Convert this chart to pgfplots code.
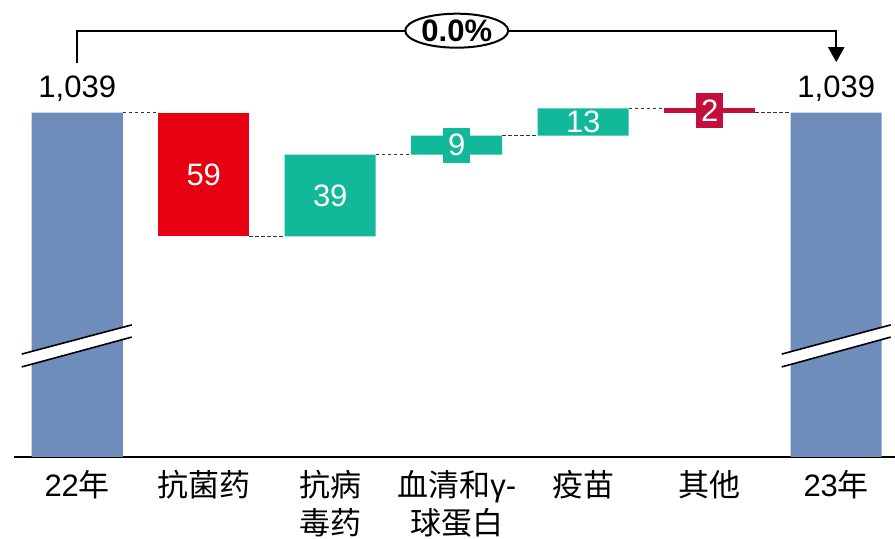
\documentclass[border=0pt]{standalone}
\usepackage{pgfplots}
\pgfplotsset{compat=1.18}
\usepackage{pgfplotstable}
\usepackage{fontspec}
\setmainfont{Liberation Sans}
\newfontfamily\cjk{Noto Sans CJK SC}
\usetikzlibrary{arrows.meta,shapes.geometric}

\definecolor{totblue}{HTML}{6F8DBA}
\definecolor{negred}{HTML}{E60012}
\definecolor{posgreen}{HTML}{12B89A}
\definecolor{crim}{HTML}{C40F3C}

% waterfall: invisible base, then the visible pieces (real values, 亿元)
\pgfplotstableread{
x base tot red green crim
0 0    1039 0  0  0
1 980  0    59 0  0
2 980  0    0  39 0
3 1019 0    0  9  0
4 1028 0    0  13 0
5 1039 0    0  0  2
6 0    1039 0  0  0
}\wf

\begin{document}
\begin{tikzpicture}[font=\fontsize{15.5}{19}\selectfont]
\useasboundingbox (0,0) rectangle (447.5pt,269.5pt);
\begin{axis}[
    at={(7pt,41pt)}, anchor=south west,
    scale only axis,
    width=442.75pt, height=178.5pt,
    xmin=-0.5, xmax=6.5, ymin=875, ymax=1045,
    ybar stacked, bar width=45.5pt,
    clip mode=individual,
    axis x line*=bottom,
    axis y line=none,
    x axis line style={black, line width=1pt, -},
    xtick={0,...,6},
    xticklabels={22{\cjk 年}, {\cjk 抗菌药}, {\cjk 抗病}\\{\cjk 毒药},
        {\cjk 血清和}γ-\\{\cjk 球蛋白}, {\cjk 疫苗}, {\cjk 其他}, 23{\cjk 年}},
    xticklabel style={align=center, font=\fontsize{15.5}{19}\selectfont, yshift=-3pt},
    major tick length=0pt,
    ytick=\empty,
]
\addplot[draw=none, fill=none] table[x=x, y=base] {\wf};
\addplot[draw=none, fill=totblue] table[x=x, y=tot] {\wf};
\addplot[draw=none, fill=negred] table[x=x, y=red] {\wf};
\addplot[draw=none, fill=posgreen] table[x=x, y=green] {\wf};
\addplot[draw=none, fill=crim] table[x=x, y=crim] {\wf};

% connectors between bars
\addplot[sharp plot, draw=black!80, line width=0.5pt, dash pattern=on 1.8pt off 1.2pt,
    unbounded coords=jump, stack plots=false] coordinates {
    (0.36,1039) (0.64,1039) (0.7,nan)
    (1.36,980) (1.64,980) (1.7,nan)
    (2.36,1019) (2.64,1019) (2.7,nan)
    (3.36,1028) (3.64,1028) (3.7,nan)
    (4.36,1041) (4.64,1041) (4.7,nan)
    (5.36,1039) (5.64,1039)
};

% anchor points for the annotations drawn after the axis
\coordinate (la1) at (axis cs:-0.439,924);   \coordinate (la2) at (axis cs:0.431,937.9);
\coordinate (lb1) at (axis cs:-0.439,917.9); \coordinate (lb2) at (axis cs:0.431,932.1);
\coordinate (ra1) at (axis cs:5.569,924);    \coordinate (ra2) at (axis cs:6.431,937.9);
\coordinate (rb1) at (axis cs:5.569,917.9);  \coordinate (rb2) at (axis cs:6.431,932.1);
\coordinate (t0) at (axis cs:0,1039);   \coordinate (t6) at (axis cs:6,1039);
\coordinate (v1) at (axis cs:1,1009.5); \coordinate (v2) at (axis cs:2,999.5);
\coordinate (v3) at (axis cs:3,1023.5); \coordinate (v4) at (axis cs:4,1034.5);
\coordinate (v5) at (axis cs:5,1040);
\coordinate (bl) at (axis cs:0,1062.6); \coordinate (bm) at (axis cs:3,1078);
\coordinate (br) at (axis cs:6,1063);
\end{axis}

% axis breaks on the total bars
\fill[white] (la1) -- (la2) -- (lb2) -- (lb1) -- cycle;
\draw[black, line width=0.8pt] (la1) -- (la2) (lb1) -- (lb2);
\fill[white] (ra1) -- (ra2) -- (rb2) -- (rb1) -- cycle;
\draw[black, line width=0.8pt] (ra1) -- (ra2) (rb1) -- (rb2);

% value labels
\node[text=black, anchor=south, yshift=2pt] at (t0) {1,039};
\node[text=black, anchor=south, yshift=2pt] at (t6) {1,039};
\node[text=white] at (v1) {59};
\node[text=white] at (v2) {39};
\node[text=white, fill=posgreen, inner sep=0pt, minimum width=13.5pt, minimum height=17.5pt] at (v3) {9};
\node[text=white] at (v4) {13};
\node[text=white, fill=crim, inner sep=0pt, minimum width=13.5pt, minimum height=17.5pt] at (v5) {2};

% CAGR bracket
\draw[black, line width=1pt] (bl) |- (bm);
\draw[black, line width=1pt, -{Triangle[width=8pt,length=7.5pt]}] (bm) -| (br);
\node[draw=black, line width=1pt, fill=white, ellipse, minimum width=51.5pt, minimum height=17pt, inner sep=0pt]
    at (bm) {\textbf{0.0\%}};
\end{tikzpicture}
\end{document}
